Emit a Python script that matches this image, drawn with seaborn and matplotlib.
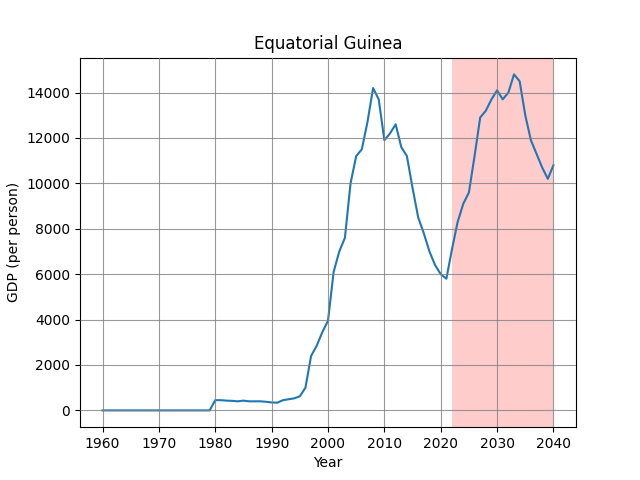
import numpy as np
import pandas as pd
import matplotlib
matplotlib.use('Agg')
import matplotlib.pyplot as plt
import seaborn as sns

years = list(range(1960, 2041))
gdp = [0] * 20 + [
    450, 450, 430, 420, 400, 430, 400, 400, 400, 380,
    350, 340, 450, 490, 530, 620, 1000, 2400, 2850, 3450,
    3950, 6100, 7000, 7600, 10000, 11200, 11500, 12700, 14200, 13700,
    11900, 12200, 12600, 11600, 11200, 9800, 8500, 7800, 7000, 6400,
    6000, 5800, 7100, 8300, 9100, 9600, 11200, 12900, 13200, 13700,
    14100, 13700, 14000, 14800, 14500, 13000, 11900, 11300, 10700, 10200,
    10800]
forecast_start = 2022
forecast_end = 2040

df = pd.DataFrame({'Year': years, 'GDP': gdp})

fig, ax = plt.subplots(figsize=(6.4, 4.8), dpi=100)
sns.lineplot(data=df, x='Year', y='GDP', ax=ax, color='#1f77b4')
ax.axvspan(forecast_start, forecast_end, color='red', alpha=0.2, lw=0)
ax.grid(True, color='gray', alpha=0.8)
ax.set_axisbelow(False)
ax.set_title('Equatorial Guinea')
ax.set_xlabel('Year')
ax.set_ylabel('GDP (per person)')
fig.savefig('out.png')
